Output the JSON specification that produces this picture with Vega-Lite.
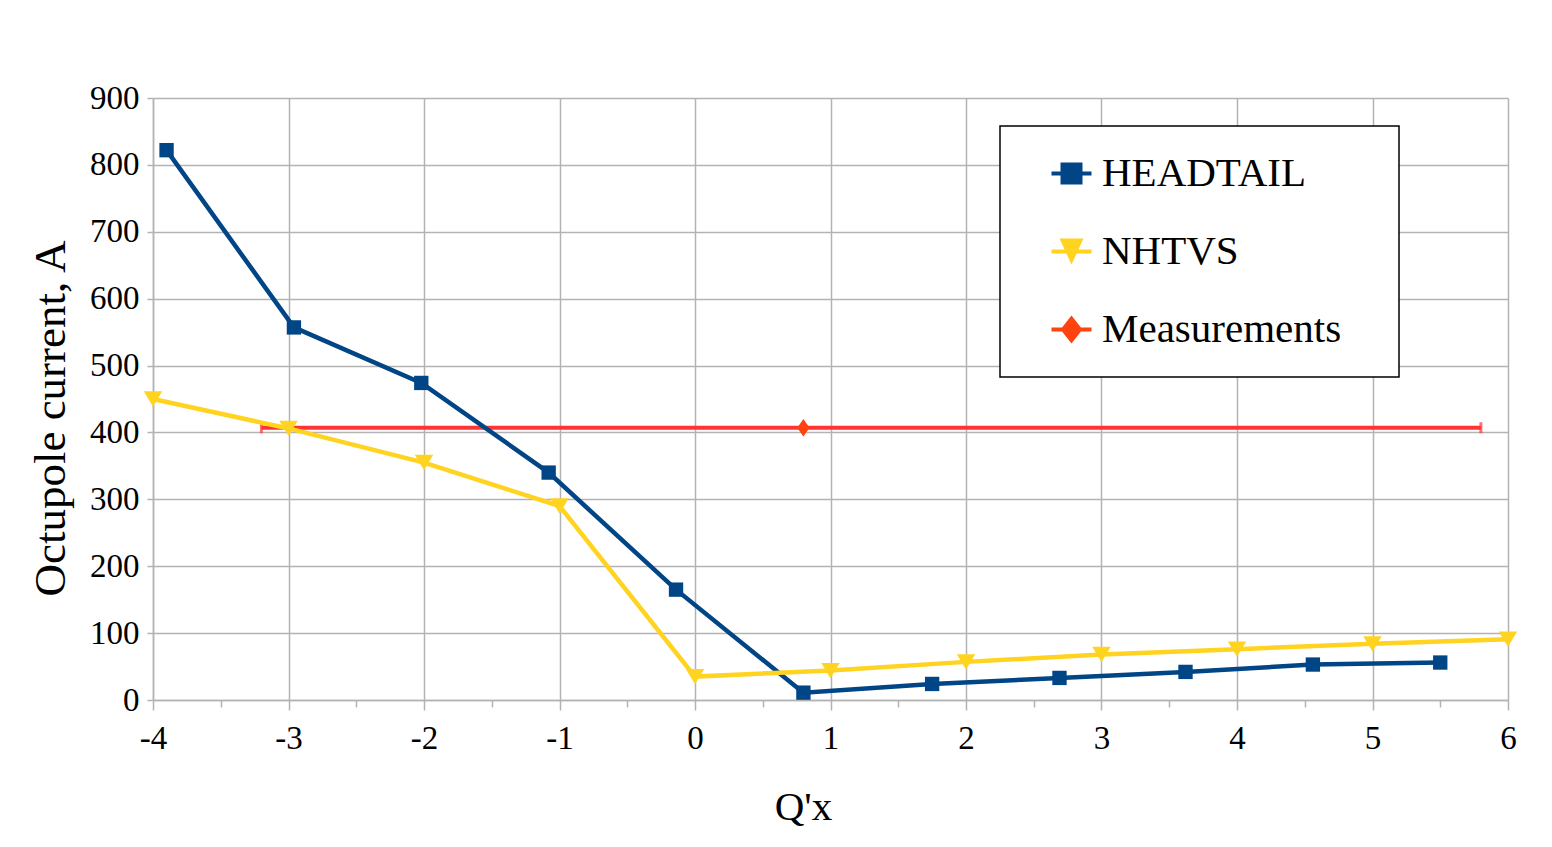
{
  "$schema": "https://vega.github.io/schema/vega-lite/v6.json",
  "width": 1355,
  "height": 602,
  "autosize": "none",
  "padding": {"left": 153, "top": 98, "right": 44, "bottom": 147},
  "background": "white",
  "config": {"view": {"stroke": null}, "font": "Liberation Serif"},
  "datasets": {
    "pts": [
      {"series": "HEADTAIL", "qx": -3.9, "current": 822},
      {"series": "HEADTAIL", "qx": -2.96, "current": 557},
      {"series": "HEADTAIL", "qx": -2.02, "current": 474},
      {"series": "HEADTAIL", "qx": -1.08, "current": 340},
      {"series": "HEADTAIL", "qx": -0.14, "current": 165},
      {"series": "HEADTAIL", "qx": 0.8, "current": 11},
      {"series": "HEADTAIL", "qx": 1.75, "current": 24},
      {"series": "HEADTAIL", "qx": 2.69, "current": 33},
      {"series": "HEADTAIL", "qx": 3.62, "current": 42},
      {"series": "HEADTAIL", "qx": 4.56, "current": 53},
      {"series": "HEADTAIL", "qx": 5.5, "current": 56},
      {"series": "NHTVS", "qx": -4, "current": 450},
      {"series": "NHTVS", "qx": -3, "current": 406},
      {"series": "NHTVS", "qx": -2, "current": 355},
      {"series": "NHTVS", "qx": -1, "current": 290},
      {"series": "NHTVS", "qx": 0, "current": 35},
      {"series": "NHTVS", "qx": 1, "current": 44},
      {"series": "NHTVS", "qx": 2, "current": 57},
      {"series": "NHTVS", "qx": 3, "current": 68},
      {"series": "NHTVS", "qx": 4, "current": 76},
      {"series": "NHTVS", "qx": 5, "current": 84},
      {"series": "NHTVS", "qx": 6, "current": 91},
      {"series": "Measurements", "qx": 0.8, "current": 407}
    ],
    "meas": [
      {"series": "Measurements", "qx": 0.8, "current": 407, "qlo": -3.2, "qhi": 5.8}
    ]
  },
  "layer": [
    {
      "data": {"name": "meas"},
      "mark": {"type": "rule", "color": "#ff3333", "strokeWidth": 4},
      "encoding": {
        "x": {
          "field": "qlo", "type": "quantitative",
          "scale": {"domain": [-4, 6], "nice": false, "zero": false},
          "axis": {
            "title": "Q'x",
            "values": [-4, -3.5, -3, -2.5, -2, -1.5, -1, -0.5, 0, 0.5, 1, 1.5, 2, 2.5, 3, 3.5, 4, 4.5, 5, 5.5, 6],
            "grid": true,
            "gridColor": "#b3b3b3",
            "gridWidth": 1.5,
            "gridOpacity": {"condition": {"test": "datum.value % 1 !== 0", "value": 0}, "value": 1},
            "tickColor": "#b3b3b3",
            "tickWidth": 1.5,
            "tickSize": {"condition": {"test": "datum.value % 1 !== 0", "value": 7}, "value": 10},
            "domainColor": "#b3b3b3",
            "domainWidth": 1.5,
            "labelExpr": "datum.value % 1 === 0 ? '' + datum.value : ''",
            "labelFlush": false,
            "labelOverlap": false,
            "labelFont": "Liberation Serif",
            "labelFontSize": 33,
            "labelColor": "black",
            "labelPadding": 12,
            "titleFont": "Liberation Serif",
            "titleFontSize": 41,
            "titleFontWeight": "normal",
            "titleColor": "black",
            "titlePadding": 32,
            "titleX": 650
          }
        },
        "x2": {"field": "qhi"},
        "y": {
          "field": "current", "type": "quantitative",
          "scale": {"domain": [0, 900], "nice": false},
          "axis": {
            "title": "Octupole current, A",
            "values": [0, 100, 200, 300, 400, 500, 600, 700, 800, 900],
            "grid": true,
            "gridColor": "#b3b3b3",
            "gridWidth": 1.5,
            "tickColor": "#b3b3b3",
            "tickWidth": 1.5,
            "tickSize": 6,
            "domainColor": "#b3b3b3",
            "domainWidth": 1.5,
            "labelFlush": false,
            "labelFont": "Liberation Serif",
            "labelFontSize": 33,
            "labelColor": "black",
            "labelPadding": 8,
            "titleFont": "Liberation Serif",
            "titleFontSize": 45,
            "titleFontWeight": "normal",
            "titleColor": "black",
            "titlePadding": 16,
            "titleY": 320
          }
        }
      }
    },
    {
      "data": {"name": "meas"},
      "transform": [{"fold": ["qlo", "qhi"], "as": ["end", "qend"]}],
      "mark": {"type": "tick", "orient": "vertical", "color": "#ff3333", "thickness": 3, "size": 11},
      "encoding": {
        "x": {"field": "qend", "type": "quantitative"},
        "y": {"field": "current", "type": "quantitative"}
      }
    },
    {
      "data": {"name": "pts"},
      "transform": [{"filter": "datum.series !== 'Measurements'"}],
      "mark": {"type": "line", "strokeWidth": 4.5},
      "encoding": {
        "x": {"field": "qx", "type": "quantitative"},
        "y": {"field": "current", "type": "quantitative"},
        "color": {
          "field": "series", "type": "nominal",
          "scale": {"domain": ["HEADTAIL", "NHTVS", "Measurements"], "range": ["#004586", "#ffd320", "#ff420e"]},
          "legend": {
            "orient": "none",
            "legendX": 847,
            "legendY": 28,
            "title": null,
            "padding": 27,
            "strokeColor": "black",
            "fillColor": "white",
            "labelFont": "Liberation Serif",
            "labelFontSize": 41,
            "labelColor": "black",
            "labelOffset": 10,
            "labelLimit": 500,
            "symbolSize": 1600,
            "symbolOffset": 24,
            "rowPadding": 36,
            "labelExpr": "datum.label + '\u2800'",
            "encode": {
              "legend": {"update": {"strokeWidth": {"value": 1.5}}},
              "symbols": {
                "update": {
                  "shape": {"signal": "datum.value === 'HEADTAIL' ? 'M-1,-0.1H1V0.1H-1Z M-0.55,-0.55H0.55V0.55H-0.55Z' : (datum.value === 'NHTVS' ? 'M-1,-0.1H1V0.1H-1Z M-0.6,-0.65H0.6L0,0.65Z' : 'M-1,-0.1H1V0.1H-1Z M0,-0.7L0.55,0L0,0.7L-0.55,0Z')"},
                  "size": {"value": 1600},
                  "fill": {"signal": "scale('color', datum.value)"},
                  "stroke": {"value": "transparent"},
                  "strokeWidth": {"value": 0},
                  "opacity": {"value": 1}
                }
              }
            }
          }
        }
      }
    },
    {
      "data": {"name": "pts"},
      "transform": [{"filter": "datum.series === 'HEADTAIL'"}],
      "mark": {"type": "point", "filled": true, "opacity": 1, "size": 420, "shape": "M-0.7,-0.7H0.7V0.7H-0.7Z"},
      "encoding": {
        "x": {"field": "qx", "type": "quantitative"},
        "y": {"field": "current", "type": "quantitative"},
        "color": {"field": "series", "type": "nominal"}
      }
    },
    {
      "data": {"name": "pts"},
      "transform": [{"filter": "datum.series === 'NHTVS'"}],
      "mark": {"type": "point", "filled": true, "opacity": 1, "size": 420, "shape": "M-0.9,-0.75H0.9L0,0.75Z"},
      "encoding": {
        "x": {"field": "qx", "type": "quantitative"},
        "y": {"field": "current", "type": "quantitative"},
        "color": {"field": "series", "type": "nominal"}
      }
    },
    {
      "data": {"name": "pts"},
      "transform": [{"filter": "datum.series === 'Measurements'"}],
      "mark": {"type": "point", "filled": true, "opacity": 1, "size": 420, "shape": "M0,-0.85L0.6,0L0,0.85L-0.6,0Z"},
      "encoding": {
        "x": {"field": "qx", "type": "quantitative"},
        "y": {"field": "current", "type": "quantitative"},
        "color": {"field": "series", "type": "nominal"}
      }
    }
  ]
}
